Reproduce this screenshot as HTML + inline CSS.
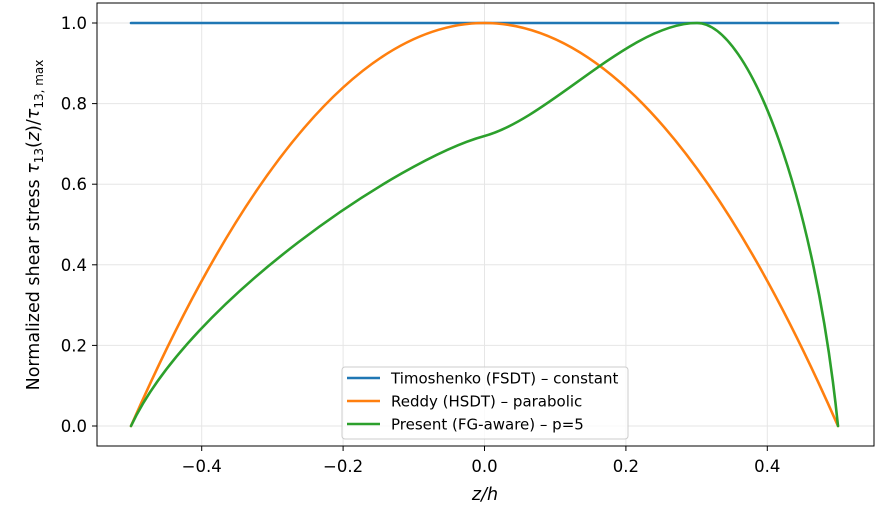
<!DOCTYPE html><html><head><style>body{margin:0;background:#fff}svg{display:block}text{font-family:"DejaVu Sans","Liberation Sans",sans-serif;fill:#000}</style></head><body>
<svg width="894" height="529" viewBox="0 0 894 529">
<rect x="97" y="3" width="777" height="443" fill="#fff"/>
<g stroke="#e6e6e6" stroke-width="1">
<line x1="201.7" y1="3" x2="201.7" y2="446"/><line x1="343.1" y1="3" x2="343.1" y2="446"/><line x1="484.5" y1="3" x2="484.5" y2="446"/><line x1="625.9" y1="3" x2="625.9" y2="446"/><line x1="767.3" y1="3" x2="767.3" y2="446"/>
<line x1="97" y1="426" x2="874" y2="426"/><line x1="97" y1="345.4" x2="874" y2="345.4"/><line x1="97" y1="264.8" x2="874" y2="264.8"/><line x1="97" y1="184.2" x2="874" y2="184.2"/><line x1="97" y1="103.6" x2="874" y2="103.6"/><line x1="97" y1="23" x2="874" y2="23"/>
</g>
<g fill="none" stroke-width="2.6" stroke-linejoin="round" stroke-linecap="round">
<line x1="131" y1="23" x2="838" y2="23" stroke="#1f77b4"/>
<path d="M131,426 Q484.5,-380 838,426" stroke="#ff7f0e"/>
<path stroke="#2ca02c" d="M131,426 C190,300 400,159 484.5,136 C550,118 630,23 697,23 C750,23 815,200 838,426"/>
</g>
<rect x="97" y="3" width="777" height="443" fill="none" stroke="#000" stroke-width="1"/>
<g stroke="#000" stroke-width="1">
<line x1="201.7" y1="446" x2="201.7" y2="451"/><line x1="343.1" y1="446" x2="343.1" y2="451"/><line x1="484.5" y1="446" x2="484.5" y2="451"/><line x1="625.9" y1="446" x2="625.9" y2="451"/><line x1="767.3" y1="446" x2="767.3" y2="451"/>
<line x1="92" y1="426" x2="97" y2="426"/><line x1="92" y1="345.4" x2="97" y2="345.4"/><line x1="92" y1="264.8" x2="97" y2="264.8"/><line x1="92" y1="184.2" x2="97" y2="184.2"/><line x1="92" y1="103.6" x2="97" y2="103.6"/><line x1="92" y1="23" x2="97" y2="23"/>
</g>
<g font-size="16.5" text-anchor="middle">
<text x="201.7" y="472">−0.4</text><text x="343.1" y="472">−0.2</text><text x="484.5" y="472">0.0</text><text x="625.9" y="472">0.2</text><text x="767.3" y="472">0.4</text>
</g>
<g font-size="16.5" text-anchor="end">
<text x="87" y="432">0.0</text><text x="87" y="351.4">0.2</text><text x="87" y="270.8">0.4</text><text x="87" y="190.2">0.6</text><text x="87" y="109.6">0.8</text><text x="87" y="29">1.0</text>
</g>
<text x="485" y="500" font-size="17.5" text-anchor="middle" font-style="italic">z/h</text>
<text transform="translate(39,225) rotate(-90)" font-size="17.5" text-anchor="middle">Normalized shear stress <tspan font-style="italic">τ</tspan><tspan font-size="12" dy="4">13</tspan><tspan dy="-4">(</tspan><tspan font-style="italic">z</tspan>)/<tspan font-style="italic">τ</tspan><tspan font-size="12" dy="4">13, max</tspan></text>
<rect x="342" y="367" width="286" height="72" rx="3" fill="#fff" fill-opacity="0.8" stroke="#ccc"/>
<g stroke-width="2.6"><line x1="347" y1="378" x2="380" y2="378" stroke="#1f77b4"/><line x1="347" y1="401" x2="380" y2="401" stroke="#ff7f0e"/><line x1="347" y1="424" x2="380" y2="424" stroke="#2ca02c"/></g>
<g font-size="15"><text x="391" y="383.5">Timoshenko (FSDT) – constant</text><text x="391" y="406.5">Reddy (HSDT) – parabolic</text><text x="391" y="429.5">Present (FG-aware) – p=5</text></g>
</svg></body></html>
